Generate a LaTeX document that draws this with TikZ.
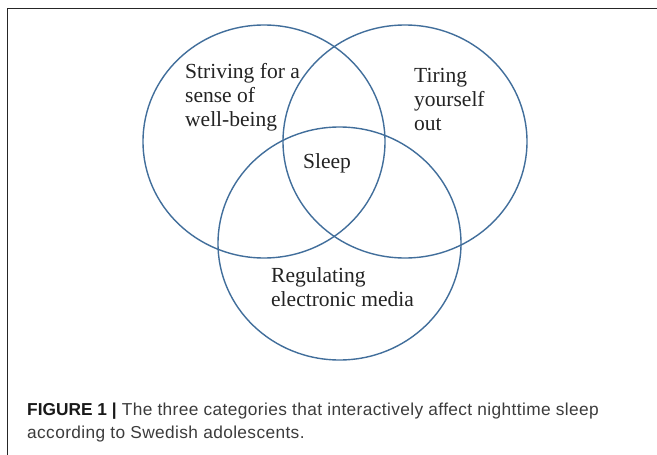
\documentclass[tikz,border=0pt]{standalone}
\usepackage{fontspec}
\setmainfont{Liberation Serif}
\newfontfamily\capfont{Liberation Sans}
\newfontfamily\capfontwide[LetterSpace=2.2]{Liberation Sans}
\definecolor{vennblue}{RGB}{65,110,155}
\definecolor{txt}{RGB}{35,35,35}
\definecolor{captxt}{RGB}{60,60,60}
\begin{document}
\begin{tikzpicture}[x=1pt,y=-1pt,
  venn/.style={draw=vennblue,line width=1.4pt},
  lbl/.style={anchor=base west,inner sep=0pt,text=txt,font=\fontsize{21.5}{24}\selectfont},
  captext/.style={anchor=base west,inner sep=0pt,text=captxt,font=\capfontwide\fontsize{17.3}{21}\selectfont}]
\useasboundingbox (0,0) rectangle (657,455);
\fill[white] (0,0) rectangle (657,455);
% frame
\coordinate (fbl) at (7.5,455);
\coordinate (ftl) at (7.5,8.5);
\coordinate (ftr) at (657,8.5);
\draw[line width=1.2pt,black!85] (fbl) -- (ftl) -- (ftr);
% circles
\coordinate (c1) at (264,141.5);
\coordinate (c2) at (405,141.5);
\coordinate (c3) at (339.5,243.5);
\draw[venn] (c1) ellipse [x radius=121pt,y radius=116.5pt];
\draw[venn] (c2) ellipse [x radius=122pt,y radius=116.5pt];
\draw[venn] (c3) ellipse [x radius=121.5pt,y radius=116.5pt];
% labels
\node[lbl] (s1) at (185,78) {Striving for a};
\node[lbl] (s2) at (185,102) {sense of};
\node[lbl] (s3) at (185,126) {well-being};
\node[lbl] (t1) at (414,82) {Tiring};
\node[lbl] (t2) at (414,106) {yourself};
\node[lbl] (t3) at (414,130) {out};
\node[lbl] (sl) at (303,168) {Sleep};
\node[lbl] (r1) at (271,282) {Regulating};
\node[lbl] (r2) at (271,306) {electronic media};
% caption
\node[captext] (cap1) at (27,415) {{\capfont\bfseries\color{black!90}FIGURE 1 |} The three categories that interactively affect nighttime sleep};
\node[captext] (cap2) at (27,438) {according to Swedish adolescents.};
\end{tikzpicture}
\end{document}
